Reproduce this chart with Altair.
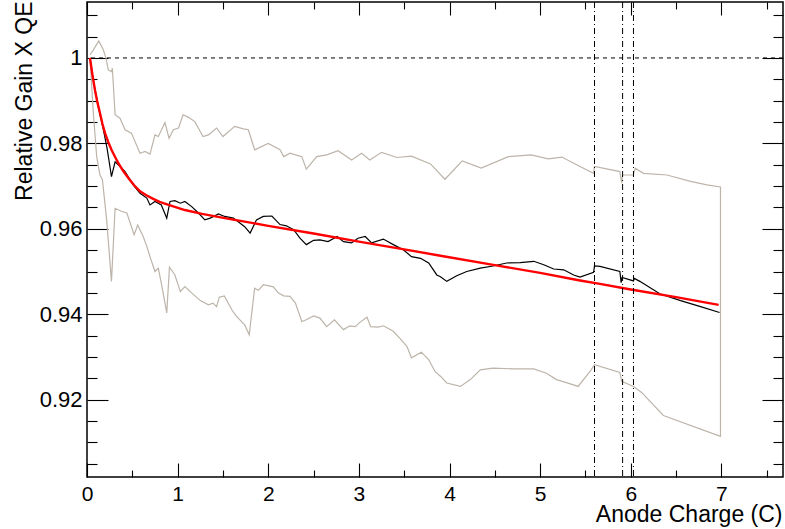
import altair as alt
import pandas as pd

# ---------------- data ----------------
black_x = [0.033, 0.08, 0.13, 0.18, 0.22, 0.25, 0.27, 0.31, 0.346, 0.42, 0.51, 0.585, 0.66, 0.695,
           0.75, 0.82, 0.88, 0.916, 0.97, 1.03, 1.08, 1.155, 1.23, 1.30, 1.36, 1.45, 1.52, 1.615,
           1.69, 1.74, 1.80, 1.87, 1.945, 2.04, 2.13, 2.20, 2.28, 2.35, 2.42, 2.50, 2.57, 2.66,
           2.76, 2.83, 2.92, 2.99, 3.07, 3.14, 3.27, 3.38, 3.49, 3.58, 3.68, 3.77, 3.86, 3.90,
           3.97, 4.08, 4.19, 4.34, 4.48, 4.63, 4.78, 4.93, 5.04, 5.15, 5.26, 5.37, 5.44, 5.59,
           5.60, 5.66, 5.88, 5.894, 5.905, 6.03, 6.04, 6.10, 6.32, 6.55, 6.77, 6.98]
black_y = [1.0, 0.9935, 0.9880, 0.9833, 0.9790, 0.9750, 0.9722, 0.9757, 0.9750, 0.9734, 0.9703,
           0.9683, 0.9672, 0.9656, 0.9664, 0.9656, 0.9625, 0.9664, 0.9666, 0.9660, 0.9664, 0.9652,
           0.9637, 0.9621, 0.9625, 0.9635, 0.9629, 0.9625, 0.9613, 0.9605, 0.9590, 0.9621, 0.9629,
           0.9630, 0.9610, 0.9607, 0.9598, 0.9578, 0.9563, 0.9573, 0.9574, 0.9570, 0.9582, 0.9570,
           0.9567, 0.9578, 0.9582, 0.9567, 0.9576, 0.9563, 0.9551, 0.9535, 0.9531, 0.9520, 0.9492,
           0.9488, 0.9477, 0.9490, 0.9500, 0.9508, 0.9513, 0.9520, 0.9521, 0.9524, 0.9516, 0.9506,
           0.9504, 0.9492, 0.9487, 0.9498, 0.9513, 0.9512, 0.9500, 0.9474, 0.9486, 0.9478, 0.9484,
           0.9477, 0.9448, 0.9432, 0.9418, 0.9404]

red_x = [0.033, 0.06, 0.088, 0.115, 0.143, 0.17, 0.199, 0.235, 0.27, 0.31, 0.346, 0.40, 0.456,
         0.52, 0.585, 0.65, 0.714, 0.80, 0.90, 1.08, 1.27, 1.52, 1.74, 2.0, 2.5, 3.0, 3.5, 3.9,
         4.5, 5.0, 5.44, 5.66, 6.0, 6.5, 6.97]
red_y = [1.0, 0.9960, 0.9925, 0.9896, 0.9871, 0.9846, 0.9824, 0.9803, 0.9785, 0.9768, 0.9754,
         0.9735, 0.9719, 0.9702, 0.9688, 0.9679, 0.9672, 0.9663, 0.9656, 0.9644, 0.9635, 0.9625,
         0.9617, 0.9607, 0.9589, 0.9570, 0.9552, 0.9537, 0.9515, 0.9497, 0.9479, 0.9471, 0.9458,
         0.9440, 0.9422]

upper_x = [0.033, 0.07, 0.13, 0.18, 0.21, 0.235, 0.27, 0.28, 0.31, 0.364, 0.42, 0.49, 0.585, 0.64,
           0.695, 0.75, 0.787, 0.86, 0.905, 0.953, 1.01, 1.06, 1.12, 1.19, 1.28, 1.34, 1.43, 1.50,
           1.63, 1.725, 1.78, 1.85, 2.00, 2.13, 2.17, 2.24, 2.30, 2.37, 2.42, 2.535, 2.645, 2.77,
           2.92, 3.03, 3.12, 3.25, 3.42, 3.58, 3.79, 3.95, 4.14, 4.35, 4.65, 4.90, 5.09, 5.24,
           5.44, 5.59, 5.60, 5.88, 5.90, 5.91, 6.03, 6.05, 6.14, 6.40, 6.66, 6.84, 6.99]
upper_y = [1.0007, 1.0019, 1.0040, 1.0019, 0.9999, 0.9972, 0.9968, 0.9976, 0.9867, 0.9859, 0.9832,
           0.9824, 0.9777, 0.9781, 0.9775, 0.9820, 0.9816, 0.9849, 0.9812, 0.9832, 0.9836, 0.9867,
           0.9861, 0.9851, 0.9816, 0.9820, 0.9836, 0.9816, 0.9840, 0.9834, 0.9832, 0.9785, 0.9800,
           0.9785, 0.9769, 0.9777, 0.9773, 0.9769, 0.9740, 0.9769, 0.9773, 0.9783, 0.9761, 0.9777,
           0.9761, 0.9779, 0.9767, 0.9770, 0.9752, 0.9716, 0.9759, 0.9742, 0.9769, 0.9773, 0.9764,
           0.9768, 0.9746, 0.9730, 0.9746, 0.9734, 0.9707, 0.9726, 0.9726, 0.9742, 0.9730, 0.9726,
           0.9711, 0.9703, 0.9698]

lower_x = [0.033, 0.07, 0.107, 0.143, 0.17, 0.217, 0.27, 0.31, 0.38, 0.44, 0.52, 0.56, 0.62, 0.66,
           0.695, 0.75, 0.787, 0.82, 0.88, 0.91, 0.97, 1.03, 1.08, 1.155, 1.25, 1.34, 1.39, 1.43,
           1.46, 1.515, 1.60, 1.65, 1.74, 1.79, 1.85, 1.89, 1.946, 2.056, 2.11, 2.17, 2.24, 2.30,
           2.37, 2.42, 2.50, 2.57, 2.645, 2.73, 2.83, 2.90, 2.96, 3.01, 3.09, 3.13, 3.215, 3.27,
           3.38, 3.45, 3.53, 3.58, 3.69, 3.77, 3.84, 3.90, 3.97, 4.12, 4.23, 4.34, 4.48, 4.71,
           4.93, 5.07, 5.18, 5.29, 5.42, 5.55, 5.60, 5.88, 5.90, 6.03, 6.12, 6.36, 6.99]
lower_y = [1.0, 0.9871, 0.9769, 0.9726, 0.9715, 0.9621, 0.9477, 0.9648, 0.9641, 0.9637, 0.9586,
           0.9609, 0.9582, 0.9559, 0.9535, 0.9500, 0.9508, 0.9473, 0.9403, 0.9510, 0.9492, 0.9453,
           0.9465, 0.9450, 0.9432, 0.9422, 0.9426, 0.9418, 0.9440, 0.9443, 0.9410, 0.9395, 0.9375,
           0.9352, 0.9461, 0.9456, 0.9469, 0.9464, 0.9450, 0.9443, 0.9442, 0.9426, 0.9383, 0.9387,
           0.9396, 0.9391, 0.9371, 0.9387, 0.9364, 0.9373, 0.9371, 0.9381, 0.9393, 0.9371, 0.9370,
           0.9373, 0.9360, 0.9344, 0.9325, 0.9298, 0.9311, 0.9294, 0.9266, 0.9255, 0.9239, 0.9231,
           0.9247, 0.9270, 0.9274, 0.9272, 0.9272, 0.9262, 0.9247, 0.9240, 0.9231, 0.9266, 0.9282,
           0.9264, 0.9243, 0.9231, 0.9217, 0.9163, 0.9114]

hline_y = [1.0]
vline_x = [5.60, 5.91, 6.03]

x_domain = [0, 7.68]
y_domain = [0.9019, 1.0131]
x_major = [0, 1, 2, 3, 4, 5, 6, 7]
x_minor = [0.5, 1.5, 2.5, 3.5, 4.5, 5.5, 6.5, 7.5]
y_major = [0.92, 0.94, 0.96, 0.98, 1.0]
y_minor = [0.905, 0.91, 0.915, 0.925, 0.93, 0.935, 0.945, 0.95, 0.955, 0.965, 0.97, 0.975,
           0.985, 0.99, 0.995, 1.005, 1.01]

# ---------------- tables ----------------
band_x = upper_x + lower_x[::-1]
band_y = upper_y + lower_y[::-1]
band_df = pd.DataFrame({"x": band_x, "y": band_y, "i": list(range(len(band_x)))})
black_df = pd.DataFrame({"x": black_x, "y": black_y, "i": list(range(len(black_x)))})
red_df = pd.DataFrame({"x": red_x, "y": red_y})
hline_df = pd.DataFrame({"y": hline_y})
vline_df = pd.DataFrame({"x": vline_x})

FONT = "Liberation Sans"
GREY = "#bdb4aa"

xs = alt.Scale(domain=x_domain, nice=False, zero=False)
ys = alt.Scale(domain=y_domain, nice=False, zero=False)

common = dict(domain=False, grid=False, tickColor="black", tickWidth=1.1)

ax_bottom_major = alt.Axis(orient="bottom", values=x_major, offset=-14, tickSize=14,
                           format="d", labelFont=FONT, labelFontSize=21, labelColor="black",
                           labelPadding=6, labelFlush=False, labelOverlap=False,
                           title="Anode Charge (C)", titleFont=FONT, titleFontSize=23,
                           titleFontWeight="normal", titleColor="black", titleAlign="right",
                           titleAnchor="end", titleBaseline="alphabetic", titleX=695, titleY=58,
                           **common)
ax_bottom_minor = alt.Axis(orient="bottom", values=x_minor, offset=-7, tickSize=7,
                           labels=False, title=None, **common)
ax_top_major = alt.Axis(orient="top", values=x_major, offset=-13, tickSize=13,
                        labels=False, title=None, **common)
ax_top_minor = alt.Axis(orient="top", values=x_minor, offset=-7, tickSize=7,
                        labels=False, title=None, **common)

ax_left_major = alt.Axis(orient="left", values=y_major, offset=-21, tickSize=21,
                         format="~g", labelFont=FONT, labelFontSize=22, labelColor="black",
                         labelPadding=5, labelFlush=False, labelOverlap=False,
                         title="Relative Gain X QE", titleFont=FONT, titleFontSize=23,
                         titleFontWeight="normal", titleColor="black", titleAngle=270,
                         titleAlign="right", titleAnchor="end", titleBaseline="alphabetic",
                         titleX=-77, titleY=-1, **common)
ax_left_minor = alt.Axis(orient="left", values=y_minor, offset=-10, tickSize=10,
                         labels=False, title=None, **common)
ax_right_major = alt.Axis(orient="right", values=y_major, offset=-21, tickSize=21,
                          labels=False, title=None, **common)
ax_right_minor = alt.Axis(orient="right", values=y_minor, offset=-10, tickSize=10,
                          labels=False, title=None, **common)

band_layer = alt.Chart(band_df).mark_line(color=GREY, strokeWidth=1.2).encode(
    x=alt.X("x:Q", scale=xs, axis=ax_bottom_major),
    y=alt.Y("y:Q", scale=ys, axis=ax_left_major),
    order="i:Q",
)
black_layer = alt.Chart(black_df).mark_line(color="black", strokeWidth=1.2).encode(
    x=alt.X("x:Q", scale=xs, axis=ax_bottom_minor),
    y=alt.Y("y:Q", scale=ys, axis=ax_left_minor),
    order="i:Q",
)
red_layer = alt.Chart(red_df).mark_line(color="#ff0000", strokeWidth=2.4).encode(
    x=alt.X("x:Q", scale=xs, axis=ax_top_major),
    y=alt.Y("y:Q", scale=ys, axis=ax_right_major),
)
hline_layer = alt.Chart(hline_df).mark_rule(color="black", strokeWidth=1, strokeDash=[4, 4]).encode(
    y=alt.Y("y:Q", scale=ys, axis=ax_right_minor),
)
vline_layer = alt.Chart(vline_df).mark_rule(color="black", strokeWidth=1, strokeDash=[6, 3, 1, 3]).encode(
    x=alt.X("x:Q", scale=xs, axis=ax_top_minor),
)

chart = alt.layer(band_layer, black_layer, red_layer, hline_layer, vline_layer).resolve_axis(
    x="independent", y="independent"
).properties(
    width=696, height=475,
    padding={"left": 87, "top": 2, "right": 2, "bottom": 52},
    autosize=alt.AutoSizeParams(type="none"),
    background="white",
).configure_view(stroke="black", strokeWidth=1.5)

chart.save("out.html", embed_options={"renderer": "svg", "actions": False})
